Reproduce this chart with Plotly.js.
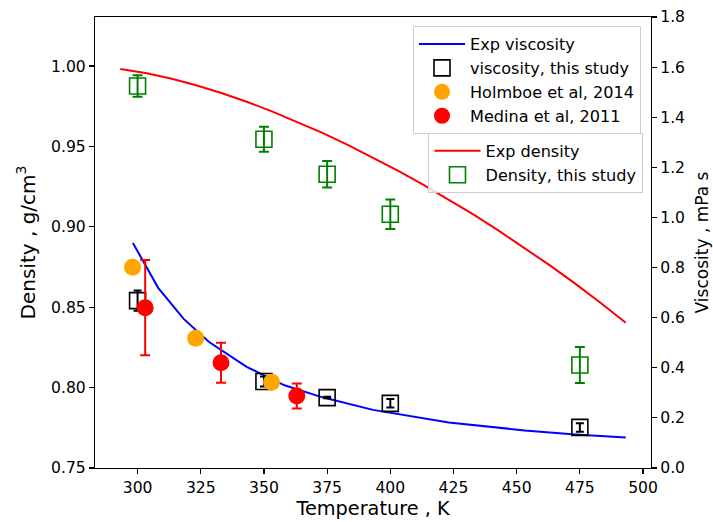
<!DOCTYPE html>
<html>
<head>
<meta charset="utf-8">
<script src="https://cdn.plot.ly/plotly-3.0.1.min.js"></script>
<style>
  html, body { margin: 0; padding: 0; background: #ffffff; }
  #chart { width: 713px; height: 522px; }
</style>
</head>
<body>
<div id="chart"></div>
<script>
// Reference curve: density of water vs temperature (K, g/cm^3)
var tempExpDensity = [293.15, 303.15, 313.15, 323.15, 333.15, 343.15, 353.15, 363.15, 373.15, 383.15, 393.15,
                      403.15, 413.15, 423.15, 433.15, 443.15, 453.15, 463.15, 473.15, 483.15, 493.15];
var expDensity = [0.9982, 0.9957, 0.9922, 0.9880, 0.9832, 0.9778, 0.9718, 0.9653, 0.9584, 0.9510, 0.9431,
                  0.9348, 0.9261, 0.9170, 0.9074, 0.8973, 0.8869, 0.8760, 0.8647, 0.8528, 0.8403];

// Reference curve: viscosity vs temperature (K, mPa s)
var tempExpViscosity = [298.15, 308.15, 318.15, 328.15, 343.15, 358.15, 373.15, 393.15, 423.15, 453.15, 473.15, 493.15];
var expViscosity = [0.898, 0.719, 0.596, 0.504, 0.404, 0.330, 0.282, 0.232, 0.182, 0.150, 0.134, 0.122];

// Simulated values, this study
var tempStudy = [300, 350, 375, 400, 475];
var viscosityStudy = [0.668, 0.345, 0.281, 0.258, 0.162];
var viscosityStudyErr = [0.040, 0.020, 0.003, 0.017, 0.017];
var densityStudy = [0.9876, 0.9545, 0.9327, 0.9078, 0.8141];
var densityStudyErr = [0.0067, 0.0078, 0.0083, 0.0092, 0.0112];

// Literature viscosities
var tempHolmboe = [298, 323, 353];
var viscosityHolmboe = [0.801, 0.518, 0.342];
var tempMedina = [303, 333, 363];
var viscosityMedina = [0.640, 0.420, 0.287];
var viscosityMedinaErr = [0.19, 0.08, 0.05];

var xTicks = [300, 325, 350, 375, 400, 425, 450, 475, 500];
var densityTicks = [0.75, 0.80, 0.85, 0.90, 0.95, 1.00];
var viscosityTicks = [0.0, 0.2, 0.4, 0.6, 0.8, 1.0, 1.2, 1.4, 1.6, 1.8];

var FONT = 'DejaVu Sans, Verdana, sans-serif';

var traces = [
  {
    x: tempExpDensity, y: expDensity, type: 'scatter', mode: 'lines',
    name: 'Exp density', yaxis: 'y', legend: 'legend2',
    line: { color: '#ff0000', width: 2 }
  },
  {
    x: tempStudy, y: densityStudy, type: 'scatter', mode: 'markers',
    name: 'Density, this study', yaxis: 'y', legend: 'legend2',
    marker: { symbol: 'square-open', size: 16, color: '#008000', line: { width: 1.6, color: '#008000' } },
    error_y: { type: 'data', array: densityStudyErr, visible: true, color: '#008000', thickness: 2, width: 5 }
  },
  {
    x: tempExpViscosity, y: expViscosity, type: 'scatter', mode: 'lines',
    name: 'Exp viscosity', yaxis: 'y2', legend: 'legend',
    line: { color: '#0000ff', width: 2 }
  },
  {
    x: tempStudy, y: viscosityStudy, type: 'scatter', mode: 'markers',
    name: 'viscosity, this study', yaxis: 'y2', legend: 'legend',
    marker: { symbol: 'square-open', size: 16, color: '#000000', line: { width: 1.6, color: '#000000' } },
    error_y: { type: 'data', array: viscosityStudyErr, visible: true, color: '#000000', thickness: 2, width: 4 }
  },
  {
    x: tempHolmboe, y: viscosityHolmboe, type: 'scatter', mode: 'markers',
    name: 'Holmboe et al, 2014', yaxis: 'y2', legend: 'legend',
    marker: { symbol: 'circle', size: 17, color: '#ffa500' }
  },
  {
    x: tempMedina, y: viscosityMedina, type: 'scatter', mode: 'markers',
    name: 'Medina et al, 2011', yaxis: 'y2', legend: 'legend',
    marker: { symbol: 'circle', size: 17, color: '#ff0000' },
    error_y: { type: 'data', array: viscosityMedinaErr, visible: true, color: '#ff0000', thickness: 2, width: 5 }
  }
];

var axisCommon = {
  showgrid: false, zeroline: false, showline: true, linecolor: '#000000', linewidth: 1.1,
  ticks: 'outside', ticklen: 5, tickwidth: 1.1, tickcolor: '#000000',
  tickfont: { family: FONT, size: 15.6, color: '#000000' },
  automargin: false
};

var legendCommon = {
  xanchor: 'right', yanchor: 'top',
  bgcolor: 'rgba(255,255,255,0.8)', bordercolor: '#cccccc', borderwidth: 1,
  font: { family: FONT, size: 16.1, color: '#000000' },
  itemwidth: 46,
  traceorder: 'normal'
};

var layout = {
  width: 713, height: 522,
  margin: { l: 95, r: 62, t: 17, b: 54, pad: 0 },
  paper_bgcolor: '#ffffff', plot_bgcolor: '#ffffff',
  font: { family: FONT, color: '#000000' },
  xaxis: Object.assign({}, axisCommon, {
    range: [283.15, 503.15], tickvals: xTicks, mirror: true,
    title: { text: 'Temperature , K', font: { family: FONT, size: 19.3, color: '#000000' }, standoff: 5 }
  }),
  yaxis: Object.assign({}, axisCommon, {
    range: [0.75, 1.0305], tickvals: densityTicks, tickformat: '.2f',
    title: { text: 'Density , g/cm<sup>3</sup>', font: { family: FONT, size: 20, color: '#000000' }, standoff: 10 }
  }),
  yaxis2: Object.assign({}, axisCommon, {
    range: [0, 1.8], tickvals: viscosityTicks, tickformat: '.1f',
    overlaying: 'y', side: 'right',
    title: { text: 'Viscosity , mPa s', font: { family: FONT, size: 17, color: '#000000' }, standoff: 12 }
  }),
  legend: Object.assign({}, legendCommon, { x: 0.982, y: 0.980 }),
  legend2: Object.assign({}, legendCommon, { x: 0.9865, y: 0.743 }),
  showlegend: true
};

Plotly.newPlot('chart', traces, layout, { staticPlot: true, displayModeBar: false });
</script>
</body>
</html>
